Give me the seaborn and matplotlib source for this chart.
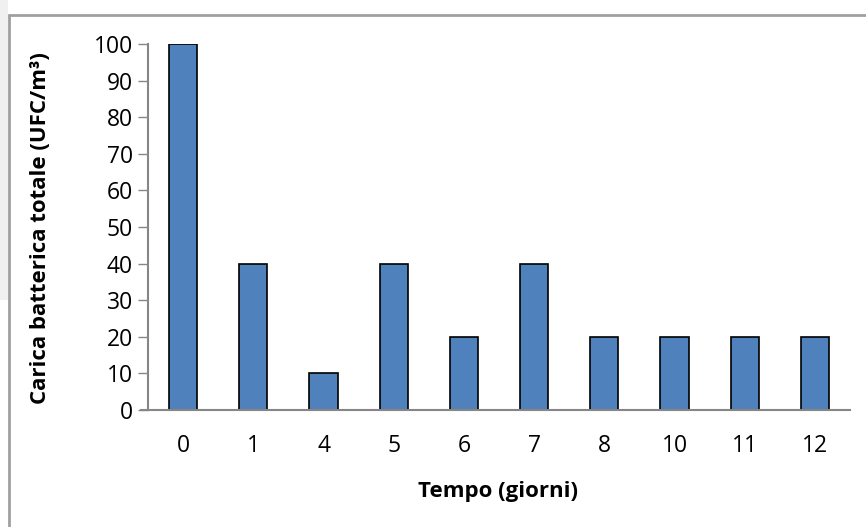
import matplotlib
matplotlib.use("Agg")
import matplotlib.pyplot as plt
from matplotlib.lines import Line2D
from matplotlib.patches import Rectangle
import seaborn as sns
import pandas as pd

# Day of sampling and total bacterial load
giorni = ["0", "1", "4", "5", "6", "7", "8", "10", "11", "12"]
carica = [100, 40, 10, 40, 20, 40, 20, 20, 20, 20]
y_ticks = [0, 10, 20, 30, 40, 50, 60, 70, 80, 90, 100]

df = pd.DataFrame({"giorno": giorni, "carica": carica})

sns.set_theme(style="white")
plt.rcParams["font.family"] = ["Open Sans", "DejaVu Sans"]

W, H = 866, 527
fig = plt.figure(figsize=(W / 100, H / 100), dpi=100)
fig.patch.set_facecolor("white")

# axes placed in pixel terms: y axis at x=148, plot right edge at 850, top (100) at y=44, bottom (0) at y=410
left, right, top, bottom = 148, 850, 44, 410
ax = fig.add_axes([left / W, 1 - bottom / H, (right - left) / W, (bottom - top) / H])

sns.barplot(data=df, x="giorno", y="carica", order=giorni, color="#4f81bd",
            saturation=1, width=0.4, edgecolor="black", linewidth=1.2, ax=ax)

ax.set_xlim(-0.5, len(giorni) - 0.5)
ax.set_ylim(0, 100)
ax.set_yticks(y_ticks)
ax.tick_params(axis="y", which="major", left=True, length=7, width=1, color="#868686",
               labelsize=16.5, pad=4, labelcolor="black")
ax.tick_params(axis="x", bottom=False, labelsize=16.5, pad=11, labelcolor="black")

for side in ("top", "right"):
    ax.spines[side].set_visible(False)
for side in ("left", "bottom"):
    ax.spines[side].set_color("#868686")
    ax.spines[side].set_linewidth(1.5)
ax.spines["bottom"].set_bounds(-0.6, len(giorni) - 0.5)
ax.spines["bottom"].set_position(("data", 0))

ax.set_xlabel("")
ax.set_ylabel("")
fig.text(498 / W, 1 - 491 / H, "Tempo (giorni)", ha="center", va="center",
         fontsize=16, fontweight="bold", color="black")
fig.text(41 / W, 1 - 228 / H, "Carica batterica totale (UFC/m³)", ha="center", va="center",
         rotation=90, fontsize=16, fontweight="bold", color="black")

# soft grey shading to the left of the chart frame
fig.patches.append(Rectangle((0, 1 - 300 / H), 8 / W, 300 / H, transform=fig.transFigure,
                             facecolor="#f0f0f0", edgecolor="none", zorder=0))

# outer chart frame (top and left edges)
frame_kw = dict(color="#a0a0a0", linewidth=2, transform=fig.transFigure)
fig.lines.append(Line2D([8.5 / W, 1], [1 - 14.5 / H, 1 - 14.5 / H], **frame_kw))
fig.lines.append(Line2D([8.5 / W, 8.5 / W], [0, 1 - 14.5 / H], **frame_kw))

fig.savefig("out.png", dpi=100, facecolor="white")
